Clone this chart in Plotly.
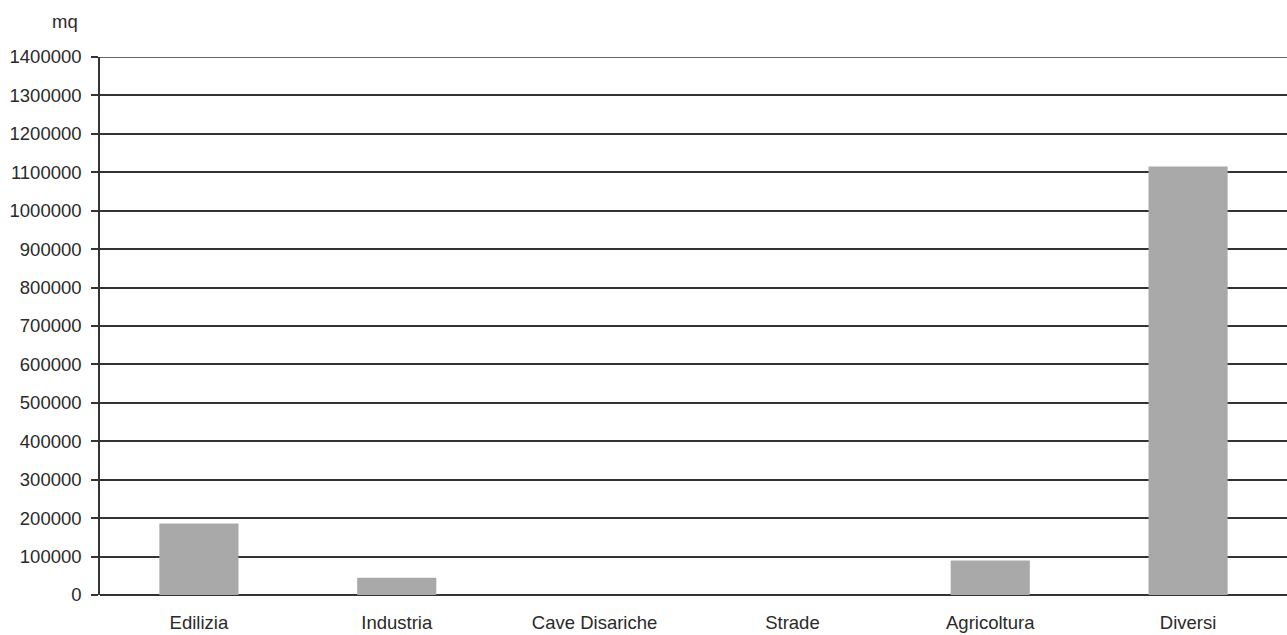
import plotly.graph_objects as go

categories = ["Edilizia", "Industria", "Cave Disariche", "Strade", "Agricoltura", "Diversi"]
values = [186000, 45000, 0, 0, 90000, 1115000]
y_ticks = list(range(0, 1400001, 100000))
y_unit = "mq"

fig = go.Figure()
fig.add_trace(go.Bar(
    x=categories, y=values, width=0.4,
    marker=dict(color="#a9a9a9", line=dict(width=0)),
))

font = dict(family="Liberation Sans, Arial, Helvetica, sans-serif", size=18.5, color="#2a2a2a")
line_col = "#333333"

fig.update_layout(
    width=1287, height=635,
    margin=dict(l=100, r=0, t=57, b=40),
    paper_bgcolor="white", plot_bgcolor="white",
    showlegend=False,
    font=font,
    xaxis=dict(
        showgrid=False, showline=False, zeroline=False, automargin=False,
        ticks="", tickfont=font, ticklabelstandoff=14,
    ),
    yaxis=dict(
        range=[0, y_ticks[-1]], tickvals=y_ticks, ticktext=[str(v) for v in y_ticks],
        automargin=False,
        showgrid=True, gridcolor=line_col, gridwidth=1.5,
        zeroline=True, zerolinecolor=line_col, zerolinewidth=1.5,
        showline=True, linecolor=line_col, linewidth=1.5,
        ticks="outside", ticklen=7, tickcolor=line_col, tickwidth=1.5,
        tickfont=font, ticklabelstandoff=6,
    ),
    shapes=[dict(
        type="line", xref="paper", yref="y", x0=0, x1=1,
        y0=y_ticks[-1], y1=y_ticks[-1], line=dict(color=line_col, width=1.5),
    )],
    annotations=[dict(
        text=y_unit, xref="paper", yref="paper", x=-0.017, y=1.0,
        xanchor="right", yanchor="bottom", yshift=23, showarrow=False, font=font,
    )],
)

fig.write_html(
    "out.html",
    config={"displayModeBar": False},
    post_script="document.body.style.margin='0';document.body.style.overflow='hidden';",
)
